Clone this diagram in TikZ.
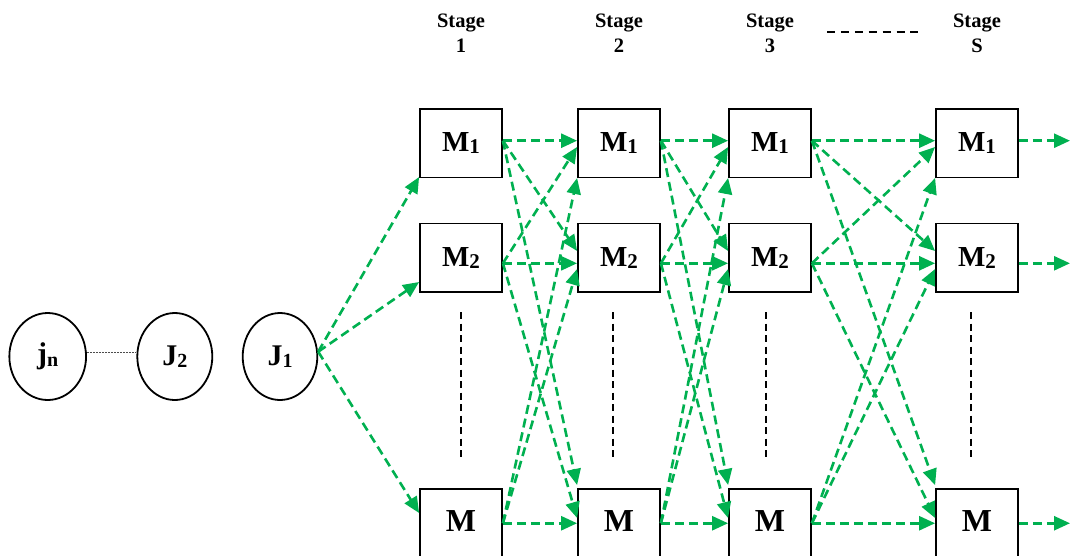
\documentclass[tikz,border=0pt]{standalone}
\usepackage{fontspec}
\setmainfont{Liberation Serif}
\usetikzlibrary{arrows.meta,shapes.geometric}
\definecolor{flowgreen}{RGB}{0,176,80}
% lowered index used in the machine and job labels
\newcommand{\lowidx}[2][20]{\raisebox{-2.4pt}{\fontsize{#1}{#1}\selectfont #2}}

\begin{document}
\begin{tikzpicture}[x=1pt,y=-1pt,
  machine/.style={draw=black, line width=1.8pt, minimum width=82pt,
    minimum height=68.5pt, inner sep=0pt,
    font=\bfseries\fontsize{29}{29}\selectfont},
  job/.style={draw=black, ellipse, line width=1.8pt, inner sep=0pt,
    minimum width=75pt, minimum height=87pt,
    font=\bfseries\fontsize{30}{30}\selectfont},
  flow/.style={draw=flowgreen, line width=2.6pt, dash pattern=on 9pt off 5pt,
    -{Triangle[length=16pt,width=14pt]}},
  stagelabel/.style={font=\bfseries\fontsize{20.5}{25}\selectfont,
    align=center, inner sep=0pt, anchor=north},
  guide/.style={draw=black, line width=1.8pt, dash pattern=on 7pt off 4.5pt},
  jobgap/.style={draw=black!70, line width=1pt, dash pattern=on 2pt off 1pt}]

\useasboundingbox (0,0) rectangle (1071,555);

% stage headings
\node[stagelabel] (st1) at (461,13.5) {Stage\\1};
\node[stagelabel] (st2) at (619,13.5) {Stage\\2};
\node[stagelabel] (st3) at (770,13.5) {Stage\\3};
\node[stagelabel] (st4) at (977,13.5) {Stage\\S};
\coordinate (hdl) at (827,32.3);
\coordinate (hdr) at (918.3,32.3);
\draw[guide, dash pattern=on 8.3pt off 5.6pt] (hdl) -- (hdr);

% machines of each stage
\foreach \c/\x in {1/461,2/619,3/770,4/977}{
  \node[machine] (A\c) at (\x,143.3) {M\lowidx[21]{1}};
  \node[machine] (B\c) at (\x,257.8) {M\lowidx[21]{2}};
  \node[machine] (C\c) at (\x,523.25) {\fontsize{32}{32}\selectfont\raisebox{4.7pt}{M}};
}

% vertical ellipsis between M2 and M
\foreach \x in {461,613,766,971}{
  \draw[guide] (\x,312) -- (\x,458);
}

% jobs
\node[job, minimum width=76.7pt] (jn) at (47.7,356.5) {j\lowidx{n}};
\node[job] (J2) at (174.8,356.5) {J\lowidx{2}};
\node[job, minimum width=74.6pt] (J1) at (280,356.5) {J\lowidx{1}};
\draw[jobgap] ([yshift=4.5pt]jn.east) -- ([yshift=4.5pt]J2.west);

% first job to the machines of stage 1
\draw[flow] ([yshift=4.8pt]J1.east) -- ([yshift=-33.7pt]A1.west);
\draw[flow] ([yshift=4.8pt]J1.east) -- ([yshift=-24.2pt]B1.west);
\draw[flow] ([yshift=4.8pt]J1.east) -- ([yshift=10.25pt]C1.west);

% every machine feeds every machine of the next stage
\foreach \s/\t in {1/2,2/3,3/4}{
  \draw[flow] ([yshift=2.6pt]A\s.east) -- ([yshift=2.6pt]A\t.west);
  \draw[flow] ([yshift=2.6pt]A\s.east) -- ([yshift=6.8pt]B\t.west);
  \draw[flow] ([yshift=2.6pt]A\s.east) -- ([yshift=38.25pt]C\t.west);
  \draw[flow] ([yshift=-5.5pt]B\s.east) -- ([yshift=-3.7pt]A\t.west);
  \draw[flow] ([yshift=-5.5pt]B\s.east) -- ([yshift=-5.5pt]B\t.west);
  \draw[flow] ([yshift=-5.5pt]B\s.east) -- ([yshift=5.25pt]C\t.west);
  \draw[flow] (C\s.east) -- ([yshift=-34.7pt]A\t.west);
  \draw[flow] (C\s.east) -- ([yshift=-11.2pt]B\t.west);
  \draw[flow] (C\s.east) -- (C\t.west);
}

% output of the last stage
\coordinate (outA) at (1070,140.7);
\coordinate (outB) at (1070,263.3);
\coordinate (outC) at (1070,523.25);
\draw[flow] ([yshift=2.6pt]A4.east) -- (outA);
\draw[flow] ([yshift=-5.5pt]B4.east) -- (outB);
\draw[flow] (C4.east) -- (outC);
\end{tikzpicture}
\end{document}
